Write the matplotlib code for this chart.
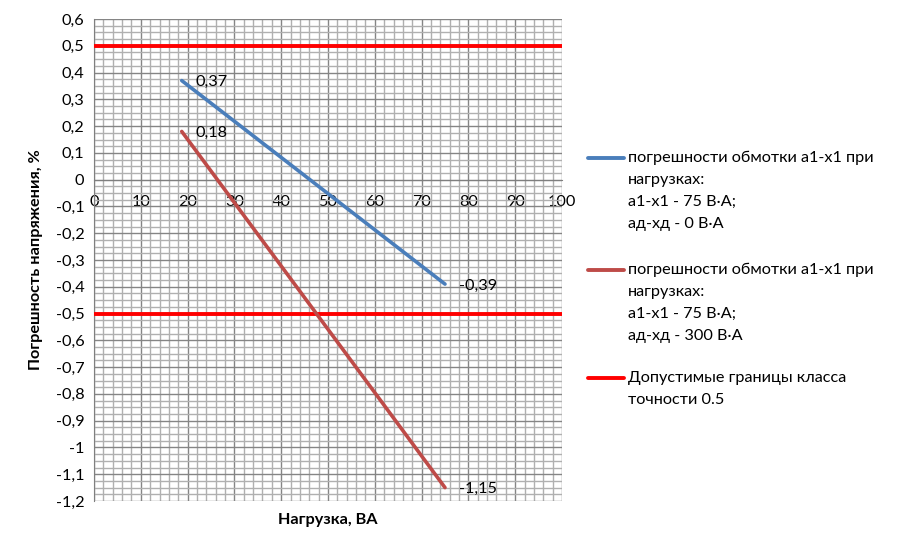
import matplotlib
matplotlib.use("Agg")
import matplotlib.pyplot as plt
from matplotlib.lines import Line2D
from matplotlib.ticker import MultipleLocator, FuncFormatter

plt.rcParams['font.family'] = ['Lato', 'DejaVu Sans']

# load, VA
load_a = [18.75, 75]
err_a = [0.37, -0.39]          # a1-x1 75 VA, ad-xd 0 VA
load_b = [18.75, 75]
err_b = [0.18, -1.15]          # a1-x1 75 VA, ad-xd 300 VA
limit_x = [0, 100]
limit_hi = [0.5, 0.5]
limit_lo = [-0.5, -0.5]

labels = [
    "погрешности обмотки а1-х1 при\nнагрузках:\nа1-х1 - 75 В·А;\nад-хд - 0 В·А",
    "погрешности обмотки а1-х1 при\nнагрузках:\nа1-х1 - 75 В·А;\nад-хд - 300 В·А",
    "Допустимые границы класса\nточности 0.5",
]
colors = ['#4a7ebb', '#be4b48', '#ff0000']
FS = 11.7


def comma(v, pos=None):
    v = round(v, 2)
    if v == 0:
        return "0"
    return format(v, 'g').replace('.', ',')


W, H = 909, 548
fig = plt.figure(figsize=(W / 100, H / 100), dpi=100)
ax = fig.add_axes([94 / W, 1 - 501 / H, (562 - 94) / W, (501 - 19) / H])

ax.plot(limit_x, limit_hi, color=colors[2], lw=2.8, solid_capstyle='butt', zorder=3)
ax.plot(limit_x, limit_lo, color=colors[2], lw=2.8, solid_capstyle='butt', zorder=3)
ax.plot(load_a, err_a, color=colors[0], lw=2.6, solid_capstyle='round', zorder=4)
ax.plot(load_b, err_b, color=colors[1], lw=2.6, solid_capstyle='round', zorder=4)

# data labels at line ends
for xs, ys in [(load_a, err_a), (load_b, err_b)]:
    for x, y in [(xs[0], ys[0]), (xs[-1], ys[-1])]:
        ax.annotate(comma(y), (x, y), xytext=(10, -1), textcoords='offset points',
                    fontsize=FS, va='center', ha='left')

ax.set_xlim(0, 100)
ax.set_ylim(-1.2, 0.6)
ax.xaxis.set_major_locator(MultipleLocator(10))
ax.xaxis.set_minor_locator(MultipleLocator(2))
ax.yaxis.set_major_locator(MultipleLocator(0.1))
ax.yaxis.set_minor_locator(MultipleLocator(0.025))
ax.yaxis.set_major_formatter(FuncFormatter(comma))
ax.grid(which='major', color='#858585', lw=1.0)
ax.grid(which='minor', color='#b0b0b0', lw=1.0)
ax.set_axisbelow(True)

for s in ['top', 'right']:
    ax.spines[s].set_visible(False)
ax.spines['bottom'].set_position(('data', 0))
ax.spines['bottom'].set_color('#7f7f7f')
ax.spines['left'].set_color('#7f7f7f')
ax.tick_params(which='both', length=0, labelsize=FS)
ax.tick_params(axis='x', pad=11)
ax.tick_params(axis='y', pad=7)

fig.text(328 / W, 1 - 520 / H, "Нагрузка, ВА", ha='center', va='center',
         fontsize=FS, fontweight='bold')
fig.text(36 / W, 1 - 260 / H, "Погрешность напряжения, %", ha='center', va='center',
         rotation=90, fontsize=FS, fontweight='bold')

# legend at right, handle aligned with first text line
entry_y = [158, 270, 378]
for label, c, y0 in zip(labels, colors, entry_y):
    fig.add_artist(Line2D([588 / W, 624 / W], [1 - y0 / H, 1 - y0 / H],
                          transform=fig.transFigure, color=c, lw=2.8,
                          solid_capstyle='round'))
    for i, line in enumerate(label.split("\n")):
        fig.text(628 / W, 1 - (y0 + 22 * i) / H, line, ha='left', va='center',
                 fontsize=FS)

fig.savefig("out.png", dpi=100, facecolor='white')
